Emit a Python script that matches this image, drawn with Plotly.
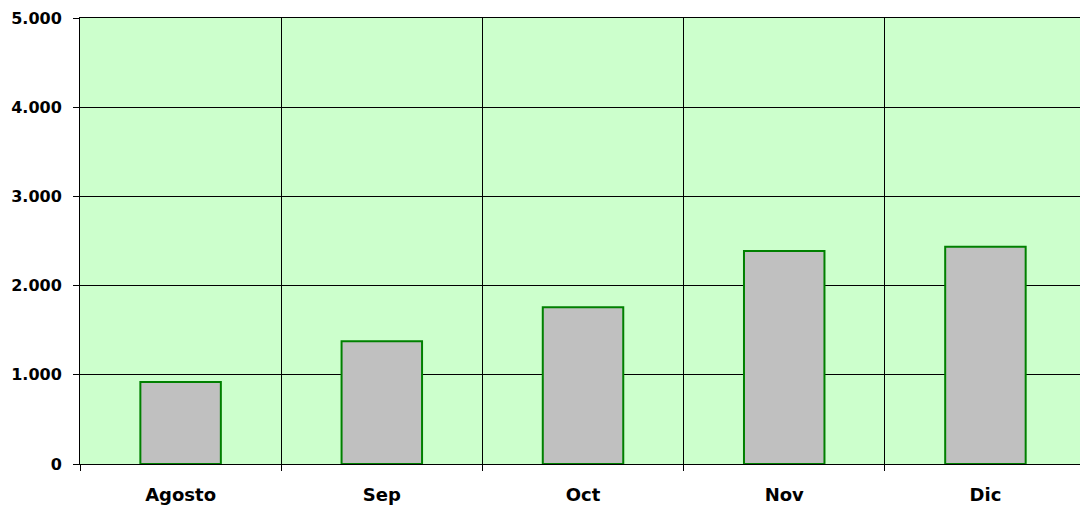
import plotly.graph_objects as go

categories = ["Agosto", "Sep", "Oct", "Nov", "Dic"]
values = [920, 1375, 1757, 2388, 2436]
y_ticks = [0, 1000, 2000, 3000, 4000, 5000]

fig = go.Figure(
    go.Bar(
        x=categories,
        y=values,
        width=0.4,
        marker=dict(color="#C0C0C0", line=dict(color="#008000", width=2)),
    )
)

fig.update_layout(
    width=1080,
    height=509,
    margin=dict(l=80, r=0, t=18, b=45),
    paper_bgcolor="white",
    plot_bgcolor="#CCFFCC",
    separators=",.",
    showlegend=False,
    font=dict(family="DejaVu Sans", color="black"),
)

fig.update_xaxes(
    type="category",
    range=[-0.5, 4.47],
    automargin=False,
    tickson="boundaries",
    ticks="outside",
    ticklen=6,
    tickcolor="black",
    ticklabelstandoff=14,
    showgrid=True,
    gridcolor="black",
    gridwidth=1,
    showline=True,
    mirror=True,
    linecolor="black",
    linewidth=1,
    tickfont=dict(family="DejaVu Sans", size=18, color="black", weight="bold"),
)

fig.update_yaxes(
    range=[0, 5000],
    automargin=False,
    tickvals=y_ticks,
    tickformat=",d",
    ticks="outside",
    ticklen=6,
    tickcolor="black",
    ticklabelstandoff=8,
    showgrid=True,
    gridcolor="black",
    gridwidth=1,
    zeroline=False,
    showline=True,
    linecolor="black",
    linewidth=1,
    tickfont=dict(family="DejaVu Sans", size=16, color="black", weight="bold"),
)

fig.write_html(
    "out.html",
    config={"displayModeBar": False},
    post_script="document.body.style.margin='0';document.body.style.overflow='hidden';",
)
